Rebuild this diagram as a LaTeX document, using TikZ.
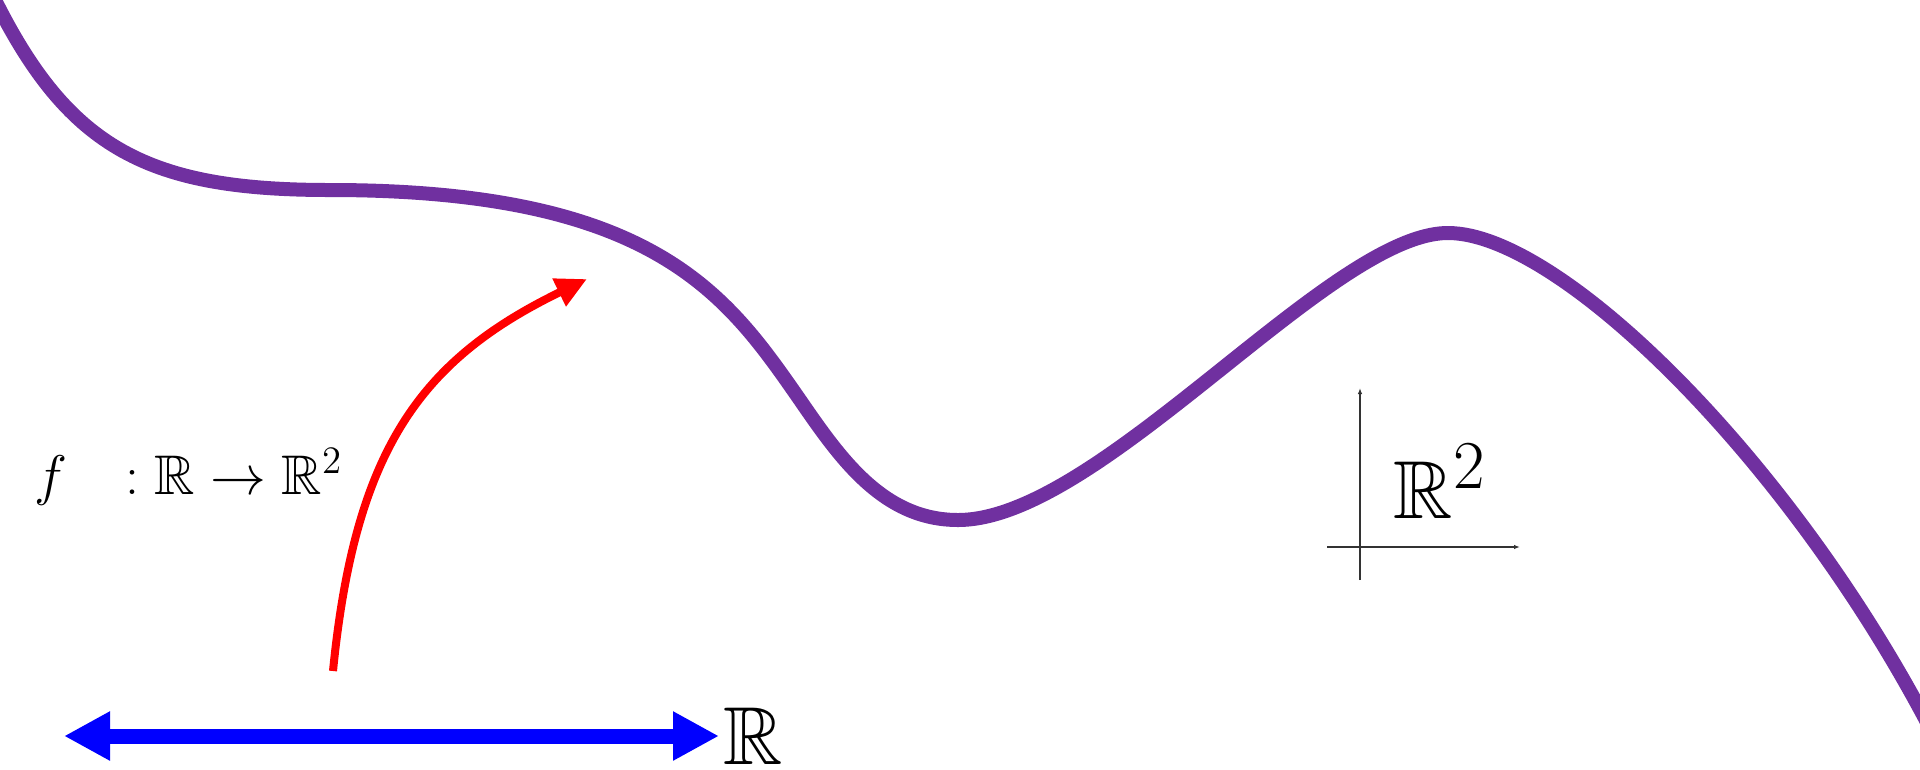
\documentclass[tikz,border=0pt]{standalone}
\usepackage{amsmath,amssymb}
\usetikzlibrary{arrows.meta,positioning}
\definecolor{curvepurple}{HTML}{7030A0}
\tikzset{curve/.style={draw=curvepurple,line width=1.4mm,line join=round},
 maparrow/.style={draw=red,line width=0.8mm,-{Triangle[length=3.1mm,width=2.9mm]}},
 realline/.style={draw=blue,line width=1.5mm,{Triangle[length=4.6mm,width=4.6mm]}-{Triangle[length=4.6mm,width=4.6mm]}},
 axisline/.style={draw=black!80,line width=0.12mm,-{Latex[length=0.6mm,width=0.45mm]}},
 biglabel/.style={inner sep=0pt,font=\Huge,scale=0.94},
 smalllabel/.style={inner sep=0pt,font=\LARGE,scale=0.92}}

\begin{document}
\begin{tikzpicture}[x=0.1mm,y=-0.1mm]
 \useasboundingbox (0,0) rectangle (1920,769);
 \begin{scope}
  \clip (0,0) rectangle (1920,769);
  \draw[curve] (-5,0) .. controls (70,150) and (150,190) .. (330,190)
   .. controls (655,190) and (727,295) .. (800,400)
   .. controls (840,458) and (883,520) .. (958,520)
   .. controls (1100,520) and (1330,233) .. (1448,233)
   .. controls (1560,233) and (1790,460) .. (1930,728);
 \end{scope}
 % map f
 \coordinate (mapstart) at (333,671);
 \coordinate (maptip) at (587,279);
 \draw[maparrow] (mapstart) .. controls (355,450) and (420,360) .. (maptip);
 \node[smalllabel,anchor=base west] (fmap) at (34,494) {$f\hspace{0.75em}: \mathbb{R} \to \mathbb{R}^2$};
 % the real line
 \coordinate (lineL) at (64,736);
 \coordinate (lineR) at (719,736);
 \draw[realline] (lineL) -- (lineR);
 \node[biglabel,right=0.4mm of lineR] (reals) {$\mathbb{R}$};
 % the plane
 \coordinate (origin) at (1360,547);
 \draw[axisline] (origin) ++(-33,0) -- ++(193,0);
 \draw[axisline] (origin) ++(0,33) -- ++(0,-192);
 \node[biglabel,anchor=base west] (plane) at (1393,518) {$\mathbb{R}^2$};
\end{tikzpicture}
\end{document}
